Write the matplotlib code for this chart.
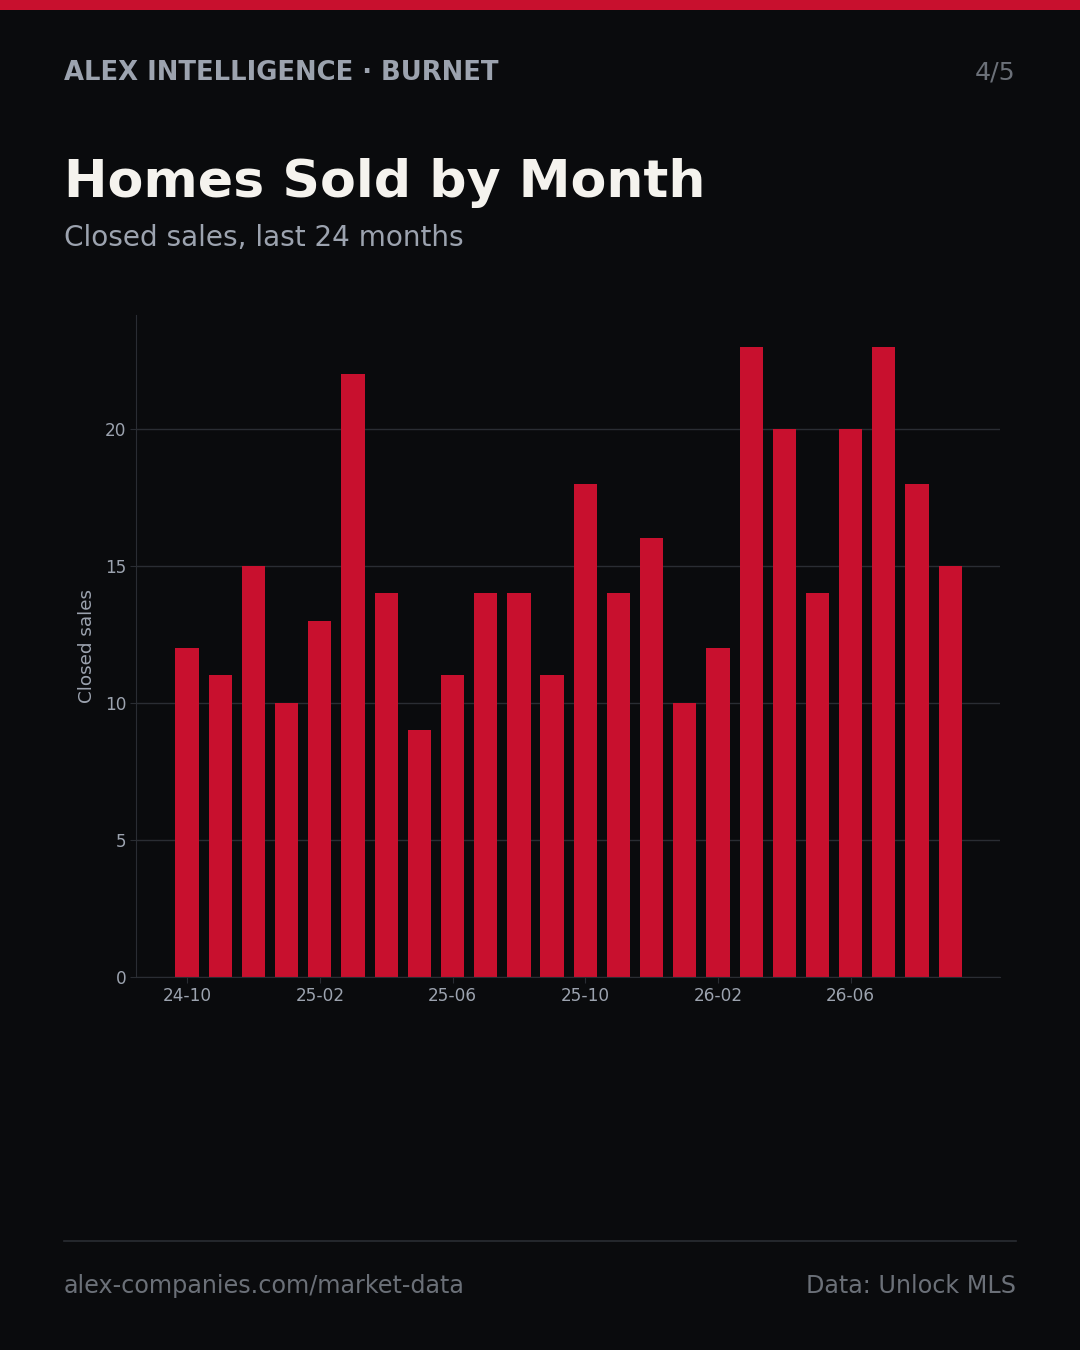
import numpy as np
import matplotlib
matplotlib.use("Agg")
import matplotlib.pyplot as plt
from matplotlib.patches import Rectangle
from matplotlib.lines import Line2D

# chart data
months = ["24-10", "24-11", "24-12", "25-01", "25-02", "25-03", "25-04", "25-05",
          "25-06", "25-07", "25-08", "25-09", "25-10", "25-11", "25-12", "26-01",
          "26-02", "26-03", "26-04", "26-05", "26-06", "26-07", "26-08", "26-09"]
sales = [12, 11, 15, 10, 13, 22, 14, 9, 11, 14, 14, 11,
         18, 14, 16, 10, 12, 23, 20, 14, 20, 23, 18, 15]
yticks = [0, 5, 10, 15, 20]

BG = "#0a0b0d"
RED = "#c8102e"
GRID = "#2a2d33"
MUTED = "#9ca3af"
DIM = "#6b7078"
WHITE = "#f5f3ee"

fig = plt.figure(figsize=(10.8, 13.5), dpi=100, facecolor=BG)

# top accent strip
fig.add_artist(Rectangle((0, 1 - 10 / 1350), 1, 10 / 1350, transform=fig.transFigure,
                         color=RED, lw=0))

# header
fig.text(64 / 1080, 1 - 73 / 1350, "ALEX INTELLIGENCE · BURNET", color=MUTED,
         fontsize=18.6, fontweight="bold", va="center", ha="left")
fig.text(1016 / 1080, 1 - 73 / 1350, "4/5", color=DIM, fontsize=18.3,
         va="center", ha="right")
fig.text(64 / 1080, 1 - 183 / 1350, "Homes Sold by Month", color=WHITE,
         fontsize=37.5, fontweight="bold", va="center", ha="left")
fig.text(64 / 1080, 1 - 238 / 1350, "Closed sales, last 24 months", color=MUTED,
         fontsize=20.1, va="center", ha="left")

# chart
ax = fig.add_axes([136 / 1080, 1 - 977 / 1350, 864 / 1080, 662 / 1350])
ax.set_facecolor(BG)
x = np.arange(len(months))
ax.bar(x, sales, width=0.7, color=RED, zorder=2)
ax.set_xlim(-1.54, 24.5)
ax.set_ylim(0, max(sales) * 1.05)
ax.set_yticks(yticks)
ax.set_xticks(x[::4])
ax.set_xticklabels(months[::4])
ax.yaxis.grid(True, color=GRID, lw=1, zorder=0)
ax.set_axisbelow(True)
for s in ["top", "right"]:
    ax.spines[s].set_visible(False)
for s in ["left", "bottom"]:
    ax.spines[s].set_color(GRID)
ax.tick_params(colors=MUTED, labelsize=12.2, length=4, color=GRID, pad=3)
ax.set_ylabel("Closed sales", color=MUTED, fontsize=13.2, labelpad=6)

# footer
fig.add_artist(Line2D([64 / 1080, 1016 / 1080], [1 - 1241 / 1350] * 2,
                      transform=fig.transFigure, color=GRID, lw=1.2))
fig.text(64 / 1080, 1 - 1286 / 1350, "alex-companies.com/market-data", color=DIM,
         fontsize=17.2, va="center", ha="left")
fig.text(1016 / 1080, 1 - 1286 / 1350, "Data: Unlock MLS", color=DIM,
         fontsize=17.2, va="center", ha="right")

fig.savefig("out.png", dpi=100, facecolor=BG)
